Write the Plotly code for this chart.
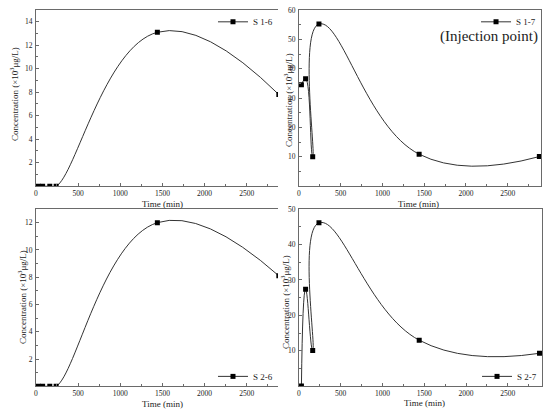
import plotly.graph_objects as go

# sampling times (min) shared by all four wells
time_min = [30, 80, 165, 240, 1440, 2880]

# concentrations, x10^3 ug/L
s1_6 = [0.0, 0.0, 0.0, 0.0, 13.1, 7.8]
s1_7 = [34.5, 36.6, 10.0, 55.2, 10.9, 10.1]
s2_6 = [0.0, 0.0, 0.0, 0.0, 12.0, 8.1]
s2_7 = [0.1, 27.4, 10.1, 46.1, 13.0, 9.3]

x_ticks = [0, 500, 1000, 1500, 2000, 2500]
y_ticks_1_6 = [2, 4, 6, 8, 10, 12, 14]
y_ticks_1_7 = [10, 20, 30, 40, 50, 60]
y_ticks_2_6 = [2, 4, 6, 8, 10, 12]
y_ticks_2_7 = [10, 20, 30, 40, 50]

W, H = 550, 416
FONT = "Liberation Serif"
AXIS_COLOR = "#6a6a6a"

# panel boxes in pixels: left, right, top, bottom
panels = [
    # name, values, legend, ymax, yticks, ydtick_minor, xmax, box, mirror_y
    ("S 1-6", s1_6, "legend", 15, y_ticks_1_6, 1, 2870, (34, 277, 6, 184), False),
    ("S 1-7", s1_7, "legend2", 60, y_ticks_1_7, 5, 2900, (298, 541, 6, 184), True),
    ("S 2-6", s2_6, "legend3", 13, y_ticks_2_6, 1, 2870, (34, 277, 207, 386), False),
    ("S 2-7", s2_7, "legend4", 50, y_ticks_2_7, 5, 2910, (298, 542, 207, 386), True),
]

fig = go.Figure()
layout = {}
annotations = []


def note(text, px_x, px_y, size=9, angle=0, xanchor="center"):
    """Paper-anchored label placed by pixel position (centre of the text)."""
    return dict(
        text=text, xref="paper", yref="paper",
        x=px_x / W, y=1 - px_y / H, xanchor=xanchor, yanchor="middle",
        textangle=angle, showarrow=False,
        font=dict(family=FONT, size=size, color="#222"),
    )


for i, (name, values, legend, ymax, yticks, ystep, xmax, box, mirror_y) in enumerate(panels):
    n = "" if i == 0 else str(i + 1)
    left, right, top, bottom = box
    fig.add_trace(go.Scatter(
        x=time_min, y=values, name=name,
        mode="lines+markers",
        line=dict(color="#333333", width=1, shape="spline", smoothing=1.3),
        marker=dict(symbol="square", size=5, color="black"),
        xaxis="x" + n, yaxis="y" + n, legend=legend,
    ))
    common = dict(
        showline=True, linecolor=AXIS_COLOR, linewidth=1,
        ticks="inside", ticklen=3, tickcolor=AXIS_COLOR,
        showgrid=False, zeroline=False,
        tickfont=dict(family=FONT, size=7.5, color="#222"),
    )
    layout["xaxis" + n] = dict(
        common, domain=[left / W, right / W], range=[0, xmax],
        tickvals=x_ticks, mirror=True, anchor="y" + n,
        minor=dict(tickmode="linear", tick0=0, dtick=250, ticks="inside",
                   ticklen=2, tickcolor=AXIS_COLOR),
    )
    layout["yaxis" + n] = dict(
        common, domain=[1 - bottom / H, 1 - top / H], range=[0, ymax],
        tickvals=yticks, mirror=mirror_y, anchor="x" + n, ticklabelstandoff=1,
        minor=dict(tickmode="linear", tick0=0, dtick=ystep, ticks="inside",
                   ticklen=2, tickcolor=AXIS_COLOR),
    )

# x titles
for px_x, px_y in [(161, 202), (418, 202), (161, 404), (424, 403)]:
    annotations.append(note("Time (min)", px_x, px_y))

# y titles sit tight against each panel; on the right panels they overlap tick labels
for px_x, px_y in [(12, 91), (287, 97), (20, 296), (284, 301)]:
    annotations.append(note("Concentration (×10<sup>3</sup>μg/L)", px_x, px_y, angle=-90))

annotations.append(note("(Injection point)", 540, 33, size=15, xanchor="right"))

legend_pos = {"legend": (277, 18), "legend2": (541, 18),
              "legend3": (277, 376), "legend4": (542, 376)}
for key, (px_x, px_y) in legend_pos.items():
    layout[key] = dict(
        x=px_x / W, y=1 - px_y / H, xanchor="right", yanchor="middle",
        bgcolor="rgba(0,0,0,0)", itemwidth=30,
        font=dict(family=FONT, size=9, color="#222"),
    )

fig.update_layout(
    **layout,
    annotations=annotations,
    width=W, height=H,
    margin=dict(l=0, r=0, t=0, b=0),
    paper_bgcolor="white", plot_bgcolor="white",
    showlegend=True,
)
# the page's default body margin would push the fixed-size figure off the window
fig.write_html("out.html", config={"displayModeBar": False},
               post_script="document.body.style.margin = '0';")
